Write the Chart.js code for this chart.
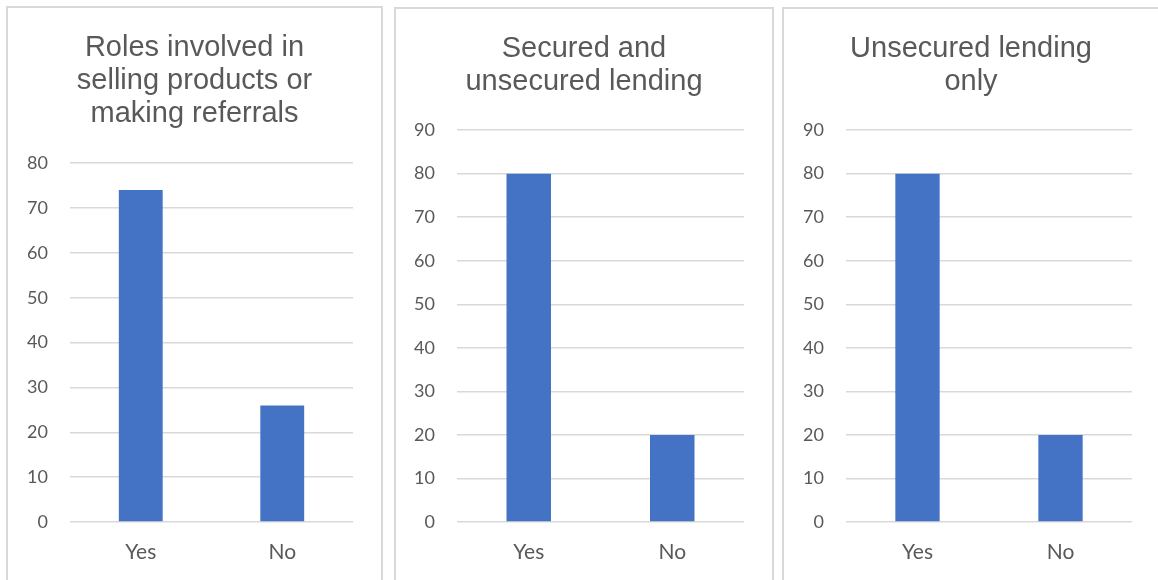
<!DOCTYPE html>
<html>
<head>
<meta charset="utf-8">
<script src="https://cdn.jsdelivr.net/npm/chart.js@4.4.1/dist/chart.umd.min.js"></script>
<style>
  body { margin: 0; background: #fff; width: 1158px; height: 580px; overflow: hidden; position: relative; }
  .painel { position: absolute; border: 2px solid #d9d9d9; background: #fff; }
  canvas { display: block; }
</style>
</head>
<body>
<div class="painel" style="left:6px; top:6px; width:373px; height:600px;"><canvas id="g1" width="373" height="572"></canvas></div>
<div class="painel" style="left:394px; top:7px; width:376px; height:600px;"><canvas id="g2" width="376" height="571"></canvas></div>
<div class="painel" style="left:782px; top:7px; width:390px; height:600px;"><canvas id="g3" width="374" height="571"></canvas></div>
<script>
// dados
const categorias = ["Yes", "No"];

const titulo1 = ["Roles involved in", "selling products or", "making referrals"];
const valores1 = [74, 26];
const max1 = 80;

const titulo2 = ["Secured and", "unsecured lending"];
const valores2 = [80, 20];
const max2 = 90;

const titulo3 = ["Unsecured lending", "only"];
const valores3 = [80, 20];
const max3 = 90;

const cinza = "#595959";
const grade = "#d9d9d9";
const azul = "#4472c4";

// cria um gráfico de barras
// o eixo "vazio" da direita só guarda espaço, assim o título fica no meio do painel
function criarGrafico(id, titulo, valores, max, esquerda, direita, tituloBaixo) {
  let ctx = document.getElementById(id).getContext("2d");

  return new Chart(ctx, {
    type: "bar",
    data: {
      labels: categorias,
      datasets: [{
        data: valores,
        backgroundColor: azul,
        barPercentage: 0.31,
        categoryPercentage: 1
      }]
    },
    options: {
      responsive: false,
      animation: false,
      layout: { padding: { top: 23, right: 0, bottom: 0, left: 0 } },
      plugins: {
        legend: { display: false },
        tooltip: { enabled: false },
        title: {
          display: true,
          text: titulo,
          color: cinza,
          font: { family: "Liberation Sans", size: 29, weight: "normal", lineHeight: 1.14 },
          padding: { top: 0, bottom: tituloBaixo }
        }
      },
      scales: {
        x: {
          grid: { display: false, drawTicks: false },
          border: { display: false },
          ticks: { color: cinza, font: { family: "Lato", size: 21 }, padding: 18 },
          afterFit: function (eixo) { eixo.height = 58; }
        },
        y: {
          min: 0,
          max: max,
          grid: { color: grade, lineWidth: 1.5, drawTicks: false },
          border: { display: false },
          ticks: { stepSize: 10, color: cinza, font: { family: "Lato", size: 18 }, padding: 22 },
          afterFit: function (eixo) { eixo.width = esquerda; }
        },
        vazio: {
          position: "right",
          grid: { display: false, drawTicks: false },
          border: { display: false },
          ticks: { display: false },
          afterFit: function (eixo) { eixo.width = direita; }
        }
      }
    }
  });
}

criarGrafico("g1", titulo1, valores1, max1, 62, 28, 33);
criarGrafico("g2", titulo2, valores2, max2, 61, 28, 32);
criarGrafico("g3", titulo3, valores3, max3, 62, 26, 32);
</script>
</body>
</html>
